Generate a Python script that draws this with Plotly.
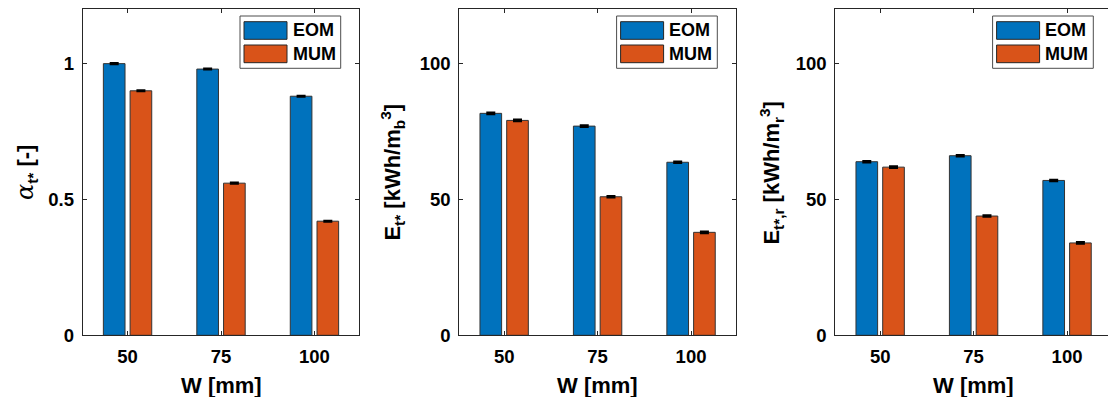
import plotly.graph_objects as go

# ---- data ----
categories = ["50", "75", "100"]
series_names = ["EOM", "MUM"]
alpha_eom = [1.00, 0.98, 0.88]
alpha_mum = [0.90, 0.56, 0.42]
alpha_err_eom = [0.002, 0.002, 0.002]
alpha_err_mum = [0.002, 0.002, 0.002]
eb_eom = [81.7, 77.0, 63.7]
eb_mum = [79.1, 51.0, 37.9]
eb_err_eom = [0.3, 0.3, 0.3]
eb_err_mum = [0.3, 0.3, 0.3]
er_eom = [63.9, 66.1, 57.0]
er_mum = [61.9, 43.9, 34.0]
er_err_eom = [0.3, 0.3, 0.3]
er_err_mum = [0.3, 0.3, 0.3]
y_ticks_alpha = [0, 0.5, 1]
y_ticklabels_alpha = ["0", "0.5", "1"]
y_ticks_e = [0, 50, 100]
y_ticklabels_e = ["0", "50", "100"]

# ---- style ----
W, H = 1108, 397
C_EOM = "#0072BD"
C_MUM = "#D95319"
AX = "#262626"
FONT = "Liberation Sans, Arial, sans-serif"

def px(x):
    return x / W

def py(y):
    return (H - y) / H

panels = [
    dict(left=82.7, right=359.3, vals=(alpha_eom, alpha_mum), errs=(alpha_err_eom, alpha_err_mum),
         yr=[0, 1.2], tv=y_ticks_alpha, tt=y_ticklabels_alpha,
         title='<span style="font-family:DejaVu Serif;font-weight:normal;font-style:italic;font-size:24px">α</span><sub>t*</sub> [-]',
         tshift=-56),
    dict(left=459.3, right=736.0, vals=(eb_eom, eb_mum), errs=(eb_err_eom, eb_err_mum),
         yr=[0, 120], tv=y_ticks_e, tt=y_ticklabels_e,
         title='E<sub>t*</sub> [kWh/m<sub>b</sub><sup>3</sup>]', tshift=-67),
    dict(left=835.3, right=W, vals=(er_eom, er_mum), errs=(er_err_eom, er_err_mum),
         yr=[0, 120], tv=y_ticks_e, tt=y_ticklabels_e,
         title='E<sub>t*,r</sub> [kWh/m<sub>r</sub><sup>3</sup>]', tshift=-64),
]

AX_TOP, AX_BOT = 9.3, 335.3
PX_PER_CAT = 93.45

fig = go.Figure()
shapes = []
annotations = []
for i, p in enumerate(panels):
    n = "" if i == 0 else str(i + 1)
    xa, ya = "x" + n, "y" + n
    for name, vals, errs, col in zip(series_names, p["vals"], p["errs"], (C_EOM, C_MUM)):
        fig.add_trace(go.Bar(
            x=categories, y=vals, name=name, xaxis=xa, yaxis=ya, showlegend=False,
            marker=dict(color=col, line=dict(color="#333333", width=1)),
            error_y=dict(type="data", array=errs, visible=True, color="black",
                         thickness=2, width=4.5),
        ))
    xr0 = -0.48
    xr1 = xr0 + (p["right"] - p["left"]) / PX_PER_CAT
    last = (i == 2)
    fig.update_layout(**{
        "xaxis" + n: dict(domain=[px(p["left"]), min(1.0, px(p["right"]))], anchor=ya,
                          type="category", range=[xr0, xr1], showline=True, linecolor=AX,
                          linewidth=1, mirror="ticks", ticks="inside", ticklen=4,
                          tickcolor=AX, showgrid=False, zeroline=False, automargin=False,
                          tickfont=dict(family=FONT, size=18.5, color="black", weight="bold"),
                          ticklabelstandoff=4, fixedrange=True),
        "yaxis" + n: dict(domain=[py(AX_BOT), py(AX_TOP)], anchor=xa, range=p["yr"],
                          tickvals=p["tv"], ticktext=p["tt"], showline=True, linecolor=AX,
                          linewidth=1, mirror=(False if last else "ticks"), ticks="inside",
                          ticklen=4, tickcolor=AX, showgrid=False, zeroline=False, automargin=False,
                          tickfont=dict(family=FONT, size=18.5, color="black", weight="bold"),
                          ticklabelstandoff=4, fixedrange=True),
    })
    # axis titles
    annotations.append(dict(text="W [mm]", xref=xa + " domain", yref=ya + " domain",
                            x=(276.6 / 2) / (p["right"] - p["left"]),
                            y=0, xanchor="center", yanchor="middle", yshift=-50, showarrow=False,
                            font=dict(family=FONT, size=22, color="black", weight="bold")))
    annotations.append(dict(text=p["title"], xref=xa + " domain", yref=ya + " domain",
                            x=0, y=0.5, xanchor="center", yanchor="middle", xshift=p["tshift"],
                            textangle=-90, showarrow=False,
                            font=dict(family=FONT, size=22, color="black", weight="bold")))
    # custom legend (box, swatches, labels)
    L = p["left"]
    shapes.append(dict(type="rect", xref="paper", yref="paper",
                       x0=px(L + 157.3), x1=px(L + 258.0), y0=py(68.3), y1=py(16.0),
                       line=dict(color="#4d4d4d", width=1), fillcolor="white", layer="above"))
    for (name, col, ys0, ys1, yc) in [("EOM", C_EOM, 21.7, 39.3, 30.5), ("MUM", C_MUM, 45.0, 62.7, 54.0)]:
        shapes.append(dict(type="rect", xref="paper", yref="paper",
                           x0=px(L + 161.3), x1=px(L + 204.3), y0=py(ys1), y1=py(ys0),
                           line=dict(color="#262626", width=1), fillcolor=col, layer="above"))
        annotations.append(dict(text=name, xref="paper", yref="paper", x=px(L + 208.0), y=py(yc),
                                xanchor="left", yanchor="middle", showarrow=False,
                                font=dict(family=FONT, size=18, color="black", weight="bold")))

fig.update_layout(
    width=W, height=H, autosize=False,
    margin=dict(l=0, r=0, t=0, b=0, pad=0, autoexpand=False),
    paper_bgcolor="white", plot_bgcolor="white",
    barmode="group", bargap=0.428, bargroupgap=0.19,
    shapes=shapes, annotations=annotations, showlegend=False,
    font=dict(family=FONT, color="black"),
)

fig.write_html("out.html", config={"displayModeBar": False, "responsive": False},
               post_script="document.body.style.margin='0';document.body.style.overflow='hidden';")
